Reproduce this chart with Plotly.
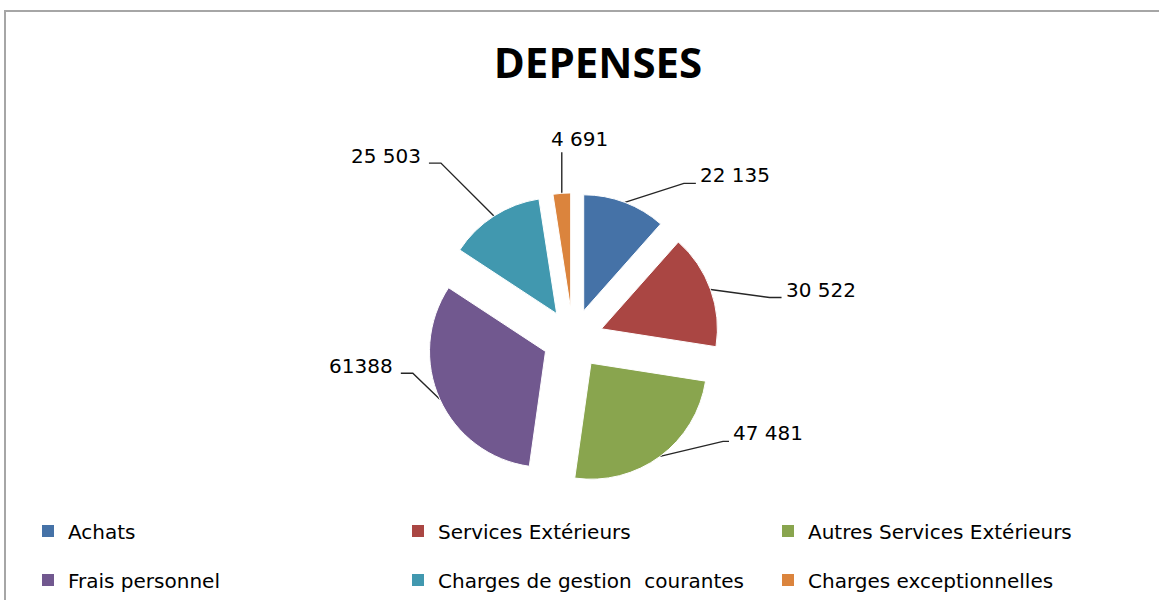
import math
import plotly.graph_objects as go

# ---------------- data ----------------
categories = ["Achats", "Services Extérieurs", "Autres Services Extérieurs",
              "Frais personnel", "Charges de gestion\u00a0 courantes", "Charges exceptionnelles"]
values = [22135, 30522, 47481, 61388, 25503, 4691]
value_labels = ["22 135", "30 522", "47 481", "61388", "25 503", "4 691"]
colors = ["#4572A7", "#AA4643", "#89A54E", "#71588F", "#4198AF", "#DB843D"]
title_text = "DEPENSES"

# ---------------- layout constants ----------------
W, H = 1159, 600
CX, CY = 573, 339          # pie centre (px)
R = 116                    # pie radius (px)
PULL = 0.26                # explosion
# leader line end offsets relative to slice anchor (px) and elbow lengths
LEADER_END = [(71, -19), (71, 8), (69, -15), (-39, -26), (-65, -53), (0, -41)]
ELBOW = [12, 12, 6, 12, 12, 0]

half = R * (1 + PULL)
domain_x = [(CX - half) / W, (CX + half) / W]
domain_y = [1 - (CY + half) / H, 1 - (CY - half) / H]

fig = go.Figure()

fig.add_trace(go.Pie(
    labels=categories, values=values, sort=False, direction="clockwise", rotation=0,
    pull=PULL, textinfo="none", hoverinfo="label+value",
    marker=dict(colors=colors, line=dict(color="white", width=1)),
    domain=dict(x=domain_x, y=domain_y), showlegend=False,
))

# leader lines + labels, anchored on slice mid-angles
total = float(sum(values))
cum = 0.0
annotations = []
for i, v in enumerate(values):
    mid = (cum + v / 2) / total * 2 * math.pi
    cum += v
    ax = CX + half * math.sin(mid)
    ay = CY - half * math.cos(mid)
    dx, dy = LEADER_END[i]
    ex, ey = ax + dx, ay + dy
    if dx > 0:
        elx = ex - ELBOW[i]
    elif dx < 0:
        elx = ex + ELBOW[i]
    else:
        elx = ex
    fig.add_trace(go.Scatter(
        x=[ax, elx, ex], y=[ay, ey, ey], mode="lines",
        line=dict(color="#262626", width=1.4), hoverinfo="skip", showlegend=False,
        xaxis="x", yaxis="y"))
    if dx > 0:
        annotations.append(dict(x=ex + 2, y=ey - 8, xanchor="left", yanchor="middle"))
    elif dx < 0:
        annotations.append(dict(x=ex - 6, y=ey - 7, xanchor="right", yanchor="middle"))
    else:
        annotations.append(dict(x=ex + 18, y=ey - 13, xanchor="center", yanchor="middle"))
    annotations[-1].update(text=value_labels[i], showarrow=False, xref="x", yref="y",
                           font=dict(family="DejaVu Sans", size=20, color="#000"))

# legend entries (two rows -> two legends)
for i, (cat, col) in enumerate(zip(categories, colors)):
    fig.add_trace(go.Scatter(
        x=[None], y=[None], mode="markers", name=cat,
        marker=dict(symbol="square", size=12, color=col),
        legend="legend" if i < 3 else "legend2", xaxis="x", yaxis="y"))

legend_common = dict(orientation="h", xanchor="left", yanchor="middle",
                     entrywidth=325, entrywidthmode="pixels",
                     font=dict(family="DejaVu Sans", size=20, color="#000"),
                     bgcolor="rgba(0,0,0,0)", itemclick=False, itemdoubleclick=False,
                     traceorder="normal")

fig.update_layout(
    width=W, height=H, margin=dict(l=0, r=0, t=0, b=0),
    paper_bgcolor="white", plot_bgcolor="white",
    title=dict(text="<b>" + title_text + "</b>", x=598 / W, xanchor="center",
               y=1 - 63 / H, yanchor="middle",
               font=dict(family="Open Sans", size=42, color="#000")),
    xaxis=dict(range=[0, W], visible=False, fixedrange=True, domain=[0, 1]),
    yaxis=dict(range=[H, 0], visible=False, fixedrange=True, domain=[0, 1]),
    legend=dict(legend_common, x=28 / W, y=1 - 531 / H),
    legend2=dict(legend_common, x=28 / W, y=1 - 580 / H),
    annotations=annotations,
    shapes=[dict(type="rect", xref="x", yref="y", x0=5, y0=11, x1=W + 20, y1=H + 20,
                 line=dict(color="#a6a6a6", width=2), fillcolor="rgba(0,0,0,0)")],
    showlegend=True,
)

fig.write_html("out.html", config={"displayModeBar": False},
               post_script="document.body.style.margin='0';document.body.style.overflow='hidden';")
